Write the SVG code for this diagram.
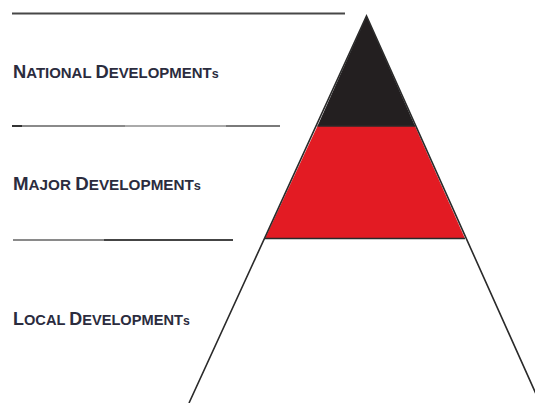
<svg xmlns="http://www.w3.org/2000/svg" width="535" height="403" viewBox="0 0 535 403">
<style>
.lbl{font-family:"Liberation Sans",Arial,sans-serif;font-weight:bold;fill:#2b2c3e;}
.big{font-size:19px;}
.sm{font-size:15.5px;}
.s{font-size:13px;}
.rule{stroke-width:2;fill:none;}
.outline{stroke:#2a2a2a;stroke-width:1.6;fill:none;}
</style>
<rect width="535" height="403" fill="#ffffff"/>
<g id="rules">
<line class="rule" x1="12" y1="13.5" x2="345" y2="13.5" stroke="#474747"/>
<line class="rule" x1="12" y1="126" x2="22" y2="126" stroke="#333"/>
<line class="rule" x1="22" y1="126" x2="125" y2="126" stroke="#8a8a8a"/>
<line class="rule" x1="125" y1="126" x2="226" y2="126" stroke="#aaaaaa"/>
<line class="rule" x1="226" y1="126" x2="280" y2="126" stroke="#7a7a7a"/>
<line class="rule" x1="13" y1="240" x2="104" y2="240" stroke="#8a8a8a"/>
<line class="rule" x1="104" y1="240" x2="233" y2="240" stroke="#444"/>
</g>
<g id="national">
<polygon points="366.5,16 415,126 317.5,126" fill="#231f20"/>
<text class="lbl" transform="translate(13,78) scale(0.965,1)"><tspan class="big">N</tspan><tspan class="sm">ATIONAL </tspan><tspan class="big">D</tspan><tspan class="sm">EVELOPMENT</tspan><tspan class="s">s</tspan></text>
</g>
<g id="major">
<polygon points="317.5,126 415,126 465,238.5 265,238.5" fill="#e31b23"/>
<text class="lbl" transform="translate(13,190) scale(0.985,1)"><tspan class="big">M</tspan><tspan class="sm">AJOR </tspan><tspan class="big">D</tspan><tspan class="sm">EVELOPMENT</tspan><tspan class="s">s</tspan></text>
</g>
<g id="local">
<text class="lbl" transform="translate(13,325) scale(0.944,1)"><tspan class="big">L</tspan><tspan class="sm">OCAL </tspan><tspan class="big">D</tspan><tspan class="sm">EVELOPMENT</tspan><tspan class="s">s</tspan></text>
</g>
<g id="connectors">
<line class="outline" x1="317.5" y1="126" x2="415" y2="126" stroke-width="1"/>
<line class="outline" x1="265" y1="238.5" x2="465" y2="238.5"/>
<polyline class="outline" points="189,403 366.5,16 536,394"/>
</g>
</svg>
